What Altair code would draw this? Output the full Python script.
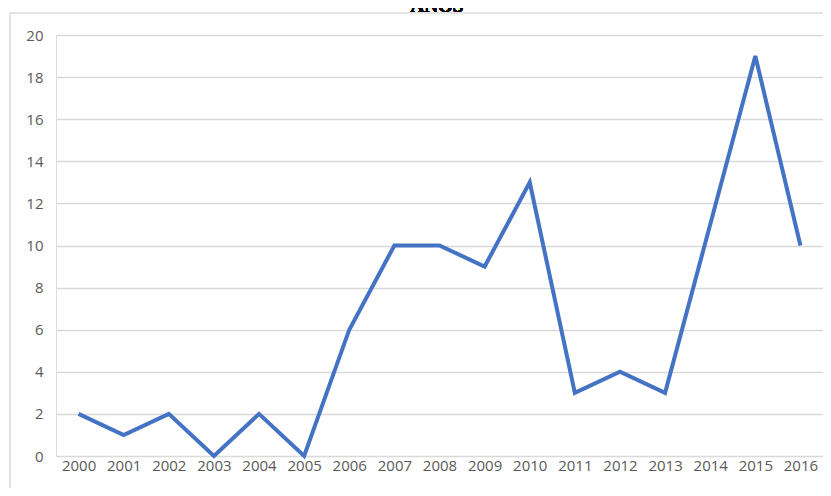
import altair as alt
import pandas as pd

years = ["2000", "2001", "2002", "2003", "2004", "2005", "2006", "2007", "2008",
         "2009", "2010", "2011", "2012", "2013", "2014", "2015", "2016"]
values = [2, 1, 2, 0, 2, 0, 6, 10, 10, 9, 13, 3, 4, 3, 11, 19, 10]
y_ticks = [0, 2, 4, 6, 8, 10, 12, 14, 16, 18, 20]

df = pd.DataFrame({"ano": years, "valor": values})

font = "Open Sans"

border = alt.Chart(df).mark_rect(
    fill=None, stroke="#e3e3e3", strokeWidth=1.5
).encode(
    x=alt.value(-46), x2=alt.value(900), y=alt.value(-22), y2=alt.value(600)
)

title = alt.Chart(df).mark_text(
    text="ANOS", font="Liberation Serif", fontWeight="bold", fontSize=19,
    color="#000000", baseline="alphabetic", align="center"
).encode(x=alt.value(381), y=alt.value(-23))

line = alt.Chart(df).mark_line(
    color="#4472C4", strokeWidth=4, strokeJoin="miter", strokeCap="butt"
).encode(
    x=alt.X("ano:N", sort=years, title=None,
            scale=alt.Scale(paddingInner=0, paddingOuter=0.5),
            axis=alt.Axis(labelAngle=0, labelFont=font, labelFontSize=15,
                          labelColor="#595959", ticks=False, domain=False,
                          labelPadding=2, grid=False)),
    y=alt.Y("valor:Q", title=None,
            scale=alt.Scale(domain=[0, 20], nice=False),
            axis=alt.Axis(values=y_ticks, labelFont=font, labelFontSize=15,
                          labelColor="#595959", ticks=False, domain=False,
                          labelPadding=13, grid=True, gridColor="#d9d9d9",
                          gridWidth=1.3))
)

chart = alt.layer(border, line, title).properties(
    width=767, height=421,
    autosize=alt.AutoSizeParams(type="none"),
    padding={"left": 48, "top": 27, "right": 0, "bottom": 32},
).configure_view(stroke=None).configure(background="white")

chart.save("out.html", embed_options={"renderer": "svg", "actions": False})
